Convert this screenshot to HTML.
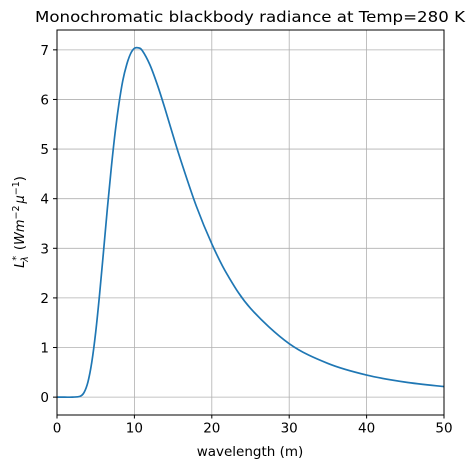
<!DOCTYPE html>
<html><head><meta charset="utf-8"><style>
body{margin:0;background:#fff;}
svg text{font-family:"DejaVu Sans","Liberation Sans",sans-serif;fill:#000;}
</style></head><body>
<svg id="chart" width="475" height="468" xmlns="http://www.w3.org/2000/svg">
<rect width="475" height="468" fill="#fff"/>
<g id="grid"></g>
<g id="ticks"></g>
<path id="curve" fill="none" stroke="#1f77b4" stroke-width="1.7"/>
<rect x="57" y="30" width="387" height="385" fill="none" stroke="#000" stroke-width="1"/>
<text x="250" y="22" font-size="15.5" text-anchor="middle" textLength="430" lengthAdjust="spacingAndGlyphs">Monochromatic blackbody radiance at Temp=280 K</text>
<text x="250" y="456" font-size="13.5" text-anchor="middle">wavelength (m)</text>
<text transform="translate(24,222) rotate(-90)" font-size="13" text-anchor="middle"><tspan font-style="italic">L</tspan><tspan font-size="9.5" dy="-5">*</tspan><tspan font-size="9.5" dx="-6" dy="9" font-style="italic">λ</tspan><tspan dy="-4" dx="2"> (</tspan><tspan font-style="italic">Wm</tspan><tspan font-size="9.5" dy="-5">−2</tspan><tspan font-style="italic" dy="5" dx="2">μ</tspan><tspan font-size="9.5" dy="-5">−1</tspan><tspan dy="5">)</tspan></text>
</svg>
<script>
const xTicks=[0,10,20,30,40,50];
const yTicks=[0,1,2,3,4,5,6,7];
const wavelengths=[0,1,2,3,3.5,4,4.5,5,5.5,6,6.5,7,7.5,8,8.5,9,9.5,10,10.5,11,12,13,14,15,16,18,20,22,25,30,35,40,45,50];
const radiance=[0,0,0,0.018,0.095,0.307,0.71,1.31,2.07,2.92,3.79,4.60,5.32,5.91,6.38,6.70,6.92,7.03,7.04,6.99,6.70,6.28,5.79,5.27,4.77,3.85,3.09,2.47,1.79,1.078,0.679,0.445,0.303,0.212];
const X0=57,X1=444,Y0=414.5,Y1=30,xmin=0,xmax=50,ymin=-0.35,ymax=7.4;
const sx=v=>X0+(v-xmin)/(xmax-xmin)*(X1-X0);
const sy=v=>Y0-(v-ymin)/(ymax-ymin)*(Y0-Y1);
const NS="http://www.w3.org/2000/svg";
const grid=document.getElementById('grid'),ticks=document.getElementById('ticks');
function mk(tag,attrs,parent){const e=document.createElementNS(NS,tag);for(const k in attrs)e.setAttribute(k,attrs[k]);parent.appendChild(e);return e;}
xTicks.forEach(t=>{
 const x=sx(t);
 const g=mk('line',{x1:x,x2:x,y1:Y1,y2:Y0,stroke:'#b0b0b0','stroke-width':0.8},grid);
 
 
 const tk=mk('line',{x1:x,x2:x,y1:Y0,y2:Y0+4,stroke:'#000'},ticks);
 
 
 const tx=mk('text',{x:x,y:Y0+18,'font-size':13.5,'text-anchor':'middle'},ticks);
 tx.textContent=t;
 
 
});
yTicks.forEach(t=>{
 const y=sy(t);
 const g=mk('line',{x1:X0,x2:X1,y1:y,y2:y,stroke:'#b0b0b0','stroke-width':0.8},grid);
 
 
 const tk=mk('line',{x1:X0-4,x2:X0,y1:y,y2:y,stroke:'#000'},ticks);
 
 
 const tx=mk('text',{x:X0-8,y:y+5,'font-size':13.5,'text-anchor':'end'},ticks);
 tx.textContent=t;
 
 
});
const pts=wavelengths.map((w,i)=>[sx(w),sy(radiance[i])]);
let d='M'+pts[0][0]+','+pts[0][1];
for(let i=0;i<pts.length-1;i++){
 const p0=pts[Math.max(0,i-1)],p1=pts[i],p2=pts[i+1],p3=pts[Math.min(pts.length-1,i+2)];
 const c1=[p1[0]+(p2[0]-p0[0])/6,p1[1]+(p2[1]-p0[1])/6];
 const c2=[p2[0]-(p3[0]-p1[0])/6,p2[1]-(p3[1]-p1[1])/6];
 d+=' C'+c1[0]+','+c1[1]+' '+c2[0]+','+c2[1]+' '+p2[0]+','+p2[1];
}
document.getElementById('curve').setAttribute('d',d);
</script>
</body></html>
